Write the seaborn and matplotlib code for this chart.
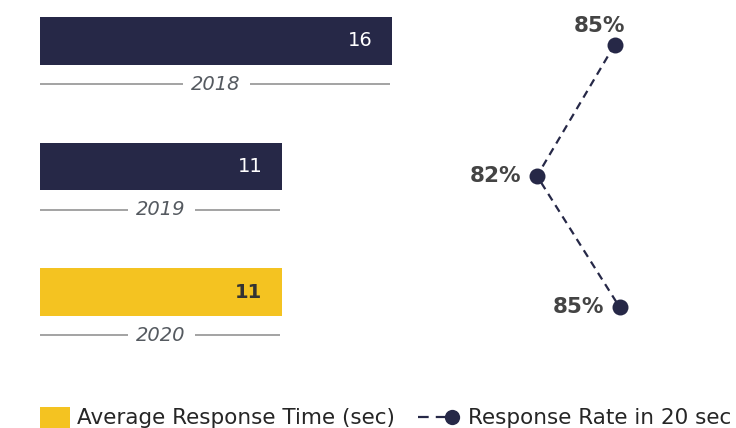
import matplotlib
matplotlib.use("Agg")
import matplotlib.pyplot as plt
from matplotlib.patches import Patch, Rectangle
from matplotlib.lines import Line2D
from matplotlib.legend_handler import HandlerPatch, HandlerBase
import seaborn as sns
import pandas as pd

years = ["2018", "2019", "2020"]
avg_response_sec = [16, 11, 11]
response_rate_pct = [84.8, 81.7, 85.0]

NAVY = "#262847"
GOLD = "#F4C321"
bar_colors = [NAVY, NAVY, GOLD]
value_colors = ["white", "white", "#333333"]

sns.set_theme(style="white")
plt.rcParams["font.family"] = ["DejaVu Sans"]

W, H = 736, 428
fig = plt.figure(figsize=(W / 100, H / 100), dpi=100)

def px_axes(left, top, right, bottom):
    return fig.add_axes([left / W, 1 - bottom / H, (right - left) / W, (bottom - top) / H])

# ---- left panel: average response time bars ----
ax = px_axes(40, 0, 420, 360)
df = pd.DataFrame({"year": years, "sec": avg_response_sec})
sns.barplot(data=df, x="sec", y="year", hue="year", palette=bar_colors,
            orient="h", width=0.375, legend=False, ax=ax, saturation=1,
            linewidth=0, edgecolor="none")
ax.set_xlim(0, 380 / 22)
ax.set_ylim(2 + 68 / 125.5, -41 / 125.5)
ax.axis("off")

for i, (v, tc) in enumerate(zip(avg_response_sec, value_colors)):
    ax.text(v - 0.9, i, f"{v}", ha="right", va="center", color=tc,
            fontsize=14, fontweight="bold" if tc != "white" else "normal")
    ly = i + 0.345
    ax.hlines(ly, 0, v - 0.1, color="#8a8a8a", lw=1.1)
    ax.text(v / 2, ly, years[i], ha="center", va="center", style="italic",
            color="#555a60", fontsize=14,
            bbox=dict(boxstyle="square,pad=0.45", fc="white", ec="none"))

# ---- right panel: response rate within 20 sec ----
ax2 = px_axes(440, 0, 736, 360)
dr = pd.DataFrame({"rate": response_rate_pct, "pos": range(len(years))})
sns.lineplot(data=dr, x="rate", y="pos", sort=False, estimator=None, ax=ax2,
             color=NAVY, linestyle=(0, (3.5, 2.5)), lw=1.6,
             marker="o", markersize=11.5, markeredgewidth=0)
xl0 = 81.7 - 97 / 25
ax2.set_xlim(xl0, xl0 + 296 / 25)
span = (307 - 45) / 2
ax2.set_ylim(2 + (360 - 307) / span, -45 / span)
ax2.axis("off")

label_style = dict(fontsize=15.5, fontweight="bold", color="#444444")
ax2.annotate(f"{response_rate_pct[0]:.0f}%", (response_rate_pct[0], 0),
             xytext=(-11, 14), textcoords="offset points", ha="center", va="center", **label_style)
for i in (1, 2):
    ax2.annotate(f"{response_rate_pct[i]:.0f}%", (response_rate_pct[i], i),
                 xytext=(-11, 0), textcoords="offset points", ha="right", va="center", **label_style)

# ---- legend ----
def square_patch(legend, orig_handle, xdescent, ydescent, width, height, fontsize):
    w = width * 30 / 42
    return Rectangle((-xdescent + width - w, -ydescent - 0.1 * height), w, height * 1.1)


class DashThenDot(HandlerBase):
    """Dashed stroke with the marker sitting at its right end."""

    def create_artists(self, legend, orig_handle, xdescent, ydescent,
                       width, height, fontsize, trans):
        y = height / 2 - ydescent
        r = orig_handle.get_markersize() / 2
        x0, x1 = -xdescent, -xdescent + width - r
        line = Line2D([x0, x1], [y, y], color=orig_handle.get_color(),
                      linestyle=orig_handle.get_linestyle(), lw=orig_handle.get_linewidth())
        line.set_dashes((3 * 1.6, 2 * 1.6))
        dot = Line2D([x1], [y], linestyle="none", marker="o",
                     markersize=orig_handle.get_markersize(),
                     markerfacecolor=orig_handle.get_color(), markeredgewidth=0)
        line.set_transform(trans)
        dot.set_transform(trans)
        return [line, dot]


line_handle = Line2D([0], [0], color=NAVY, linestyle="--", lw=1.6,
                     marker="o", markersize=11, markeredgewidth=0)
handles = [Patch(facecolor=GOLD, edgecolor="none"), line_handle]
fig.legend(handles, ["Average Response Time (sec)", "Response Rate in 20 sec"],
           loc="lower left", bbox_to_anchor=(15 / W, -0.03), ncol=2, frameon=False,
           fontsize=15.5, handlelength=1.95, handleheight=1.0, handletextpad=0.35,
           columnspacing=1.06, borderaxespad=0.2,
           handler_map={Patch: HandlerPatch(patch_func=square_patch),
                        Line2D: DashThenDot()})

fig.savefig("out.png", dpi=100)
